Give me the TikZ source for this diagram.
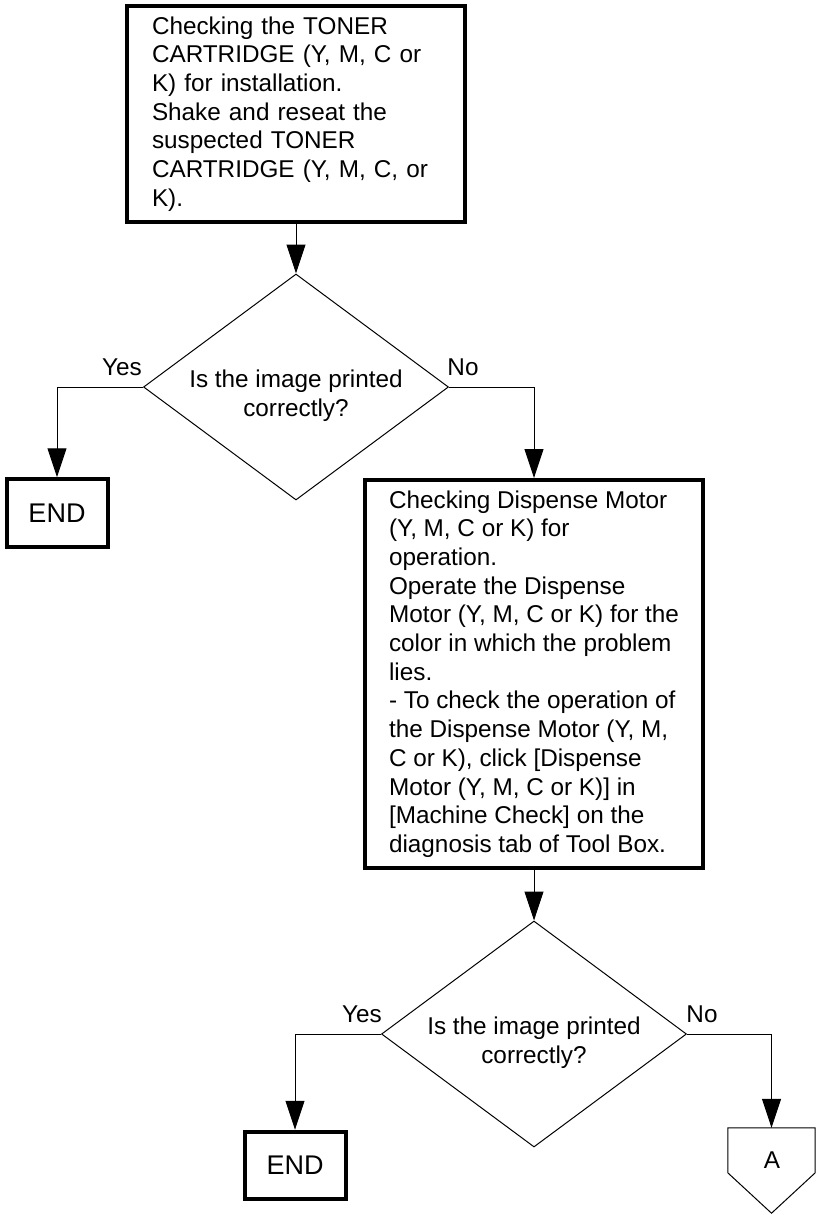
\documentclass[tikz,border=0pt]{standalone}
\usepackage{fontspec}
\setmainfont{Liberation Sans}
\usetikzlibrary{shapes.geometric,arrows.meta}
\begin{document}
\begin{tikzpicture}[x=1pt,y=-1pt,
  every node/.style={font=\fontsize{24.3}{28.7}\selectfont},
  stepbox/.style={draw,line width=4pt,inner sep=0pt,align=left,minimum width=338pt},
  decision/.style={draw,diamond,line width=1pt,inner sep=0pt,minimum width=305pt,minimum height=226pt},
  question/.style={align=center,inner sep=0pt},
  endbox/.style={draw,line width=4pt,inner sep=0pt,minimum width=101pt,minimum height=67.5pt,
    font=\fontsize{27}{32}\selectfont},
  branch/.style={inner sep=0pt},
  flow/.style={line width=1pt,-{Triangle[length=29pt,width=19pt]}},
  thin outline/.style={line width=1pt}
]
% page
\fill[white] (0,0) rectangle (816,1215);
\useasboundingbox (0,0) rectangle (816,1215);

% first check
\node[stepbox,minimum height=216pt,text width=288pt] (box1) at (296,114)
  {Checking the TONER\\CARTRIDGE (Y, M, C or\\K) for installation.\\Shake and reseat the\\suspected TONER\\CARTRIDGE (Y, M, C, or\\K).};

% first decision
\node[decision] (q1) at (296,387) {};
\node[question] (q1t) at (296,396) {Is the image printed\\correctly?};
\node[branch] (y1) at (122,367) {Yes};
\node[branch] (n1) at (463,367) {No};
\node[endbox] (end1) at (57,513) {END};

% second check (block width set by its longest line)
\node[stepbox,minimum height=388pt] (box2) at (534,674)
  {Checking Dispense Motor\\(Y, M, C or K) for\\operation.\\Operate the Dispense\\Motor (Y, M, C or K) for the\\color in which the problem\\lies.\\- To check the operation of\\the Dispense Motor (Y, M,\\C or K), click {[}Dispense\\Motor (Y, M, C or K){]} in\\{[}Machine Check{]} on the\\diagnosis tab of Tool Box.};

% second decision
\node[decision] (q2) at (534,1034) {};
\node[question] (q2t) at (534,1042.5) {Is the image printed\\correctly?};
\node[branch] (y2) at (362,1014) {Yes};
\node[branch] (n2) at (702,1014) {No};
\node[endbox] (end2) at (295,1165.5) {END};

% off-page connector A
\node[inner sep=0pt,minimum width=87pt,minimum height=85pt] (offA) at (771.5,1170.5) {};
\node[branch] (offAt) at (772,1160) {A};
\draw[thin outline] (offA.north west) -- (offA.north east)
  -- ([yshift=-45pt]offA.north east) -- (offA.south)
  -- ([yshift=-45pt]offA.north west) -- cycle;

% connectors
\draw[flow] (box1.south) -- (q1.north);
\draw[flow] (q1.west) -| (end1.north);
\draw[flow] (q1.east) -| (box2.north);
\draw[flow] (box2.south) -- (q2.north);
\draw[flow] (q2.west) -| (end2.north);
\draw[flow] (q2.east) -| (offA.north);
\end{tikzpicture}
\end{document}
